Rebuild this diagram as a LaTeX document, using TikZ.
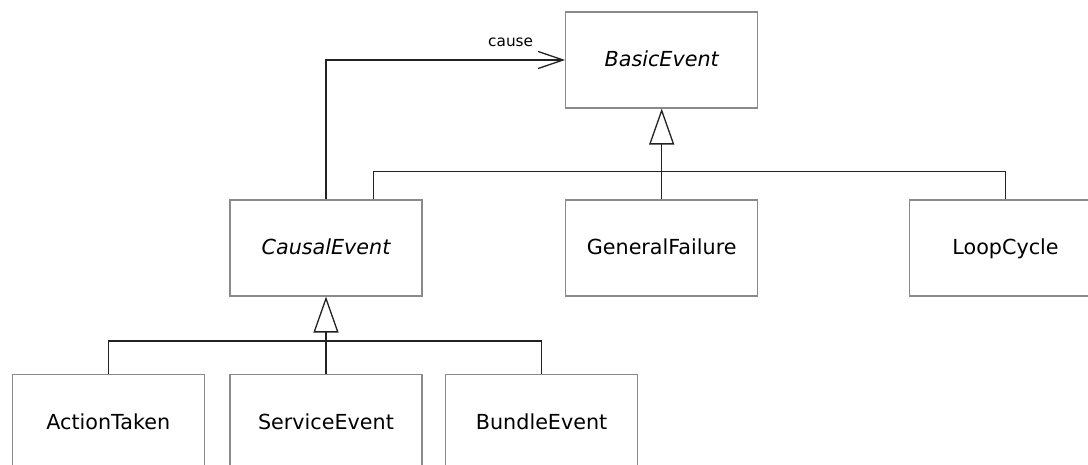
\documentclass[tikz,border=0pt]{standalone}
\usepackage{fontspec}
\setmainfont{DejaVu Sans}
\usetikzlibrary{arrows.meta,calc}
\definecolor{boxgray}{HTML}{8A8A8A}
\definecolor{linedark}{HTML}{222222}
\begin{document}
\begin{tikzpicture}[x=1pt,y=-1pt,
  cls/.style={draw=boxgray, line width=1.1pt, fill=white, rectangle,
    minimum width=192pt, minimum height=96pt, inner sep=0pt,
    text height=14pt, text depth=0pt,
    font=\fontsize{20.7}{24}\selectfont},
  conn/.style={draw=linedark, line width=1.3pt},
  inh/.style={conn, -{Triangle[open, length=36pt, width=25pt, fill=white]}},
  assoc/.style={conn, -{Straight Barb[length=25pt, width=17pt]}},
  lbl/.style={font=\fontsize{15.3}{18}\selectfont, inner sep=0pt}
]
\useasboundingbox (0,0) rectangle (1088,465);
\clip (0,0) rectangle (1088,465);

\node[cls] (basic) at (661.7,60) {\itshape BasicEvent};
\node[cls] (causal) at (326,248) {\itshape CausalEvent};
\node[cls] (general) at (661.7,248) {GeneralFailure};
\node[cls] (loop) at (1005.5,248) {LoopCycle};
\node[cls] (action) at (108.3,422.3) {ActionTaken};
\node[cls] (service) at (326,422.3) {ServiceEvent};
\node[cls] (bundle) at (541.6,422.3) {BundleEvent};

% association
\draw[assoc] (causal.north) |- (basic.west);
\node[lbl, anchor=base east] (causelbl) at (533.3,46.7) {cause};

% generalization to BasicEvent
\coordinate (j1) at (661.7,171.7);
\coordinate (c1) at ($(causal.north)+(47.3,0)$);
\draw[conn] (c1) |- (j1) -| (loop.north);
\draw[conn] (general.north) -- (j1);
\draw[inh] (j1) -- (basic.south);

% generalization to CausalEvent
\coordinate (j2) at (326,341);
\draw[conn] (action.north) |- (j2) -| (bundle.north);
\draw[conn] (service.north) -- (j2);
\draw[inh] (j2) -- (causal.south);
\end{tikzpicture}
\end{document}
